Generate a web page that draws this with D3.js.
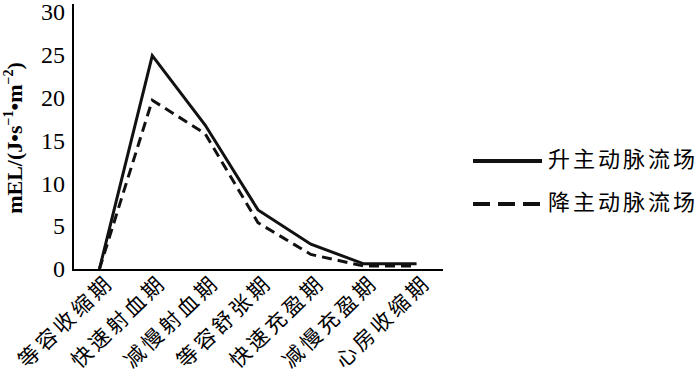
<!DOCTYPE html>
<html><head><meta charset="utf-8">
<script src="https://cdn.jsdelivr.net/npm/d3@7"></script>
<style>html,body{margin:0;padding:0;background:#fff;}svg{display:block;}</style>
</head><body>
<svg id="c" width="700" height="377"></svg>
<script>
const categories = ["等容收缩期","快速射血期","减慢射血期","等容舒张期","快速充盈期","减慢充盈期","心房收缩期"];
const ascending = [0, 24.9, 16.8, 6.9, 2.9, 0.6, 0.6];
const descending = [0, 19.7, 15.8, 5.4, 1.7, 0.35, 0.35];
const seriesNames = ["升主动脉流场","降主动脉流场"];
const yTicks = [0,5,10,15,20,25,30];

(function(){
const svg = d3.select("#c");
const mLeft = 73, mRight = 443, mTop = 12, mBottom = 269;
const x = d3.scalePoint().domain(categories).range([mLeft, mRight]).padding(0.5);
const y = d3.scaleLinear().domain([0,30]).range([mBottom, mTop]);

// axes
const yAxis = svg.append("g").attr("transform",`translate(${mLeft},0)`)
  .call(d3.axisLeft(y).tickValues(yTicks).tickSize(0).tickPadding(8));
yAxis.select(".domain").remove();
yAxis.selectAll("text").attr("font-family","Liberation Serif").attr("font-size",24).attr("fill","#000");
svg.append("line").attr("x1",mLeft).attr("x2",mLeft).attr("y1",4).attr("y2",mBottom+1)
  .attr("stroke","#000").attr("stroke-width",2);

const xAxis = svg.append("g").attr("transform",`translate(0,${mBottom})`)
  .call(d3.axisBottom(x).tickSize(0).tickPadding(0));
xAxis.select(".domain").remove();
svg.append("line").attr("x1",mLeft-1).attr("x2",mRight).attr("y1",mBottom+1).attr("y2",mBottom+1)
  .attr("stroke","#000").attr("stroke-width",2);
xAxis.selectAll("text")
  .attr("font-family","Noto Sans CJK SC").attr("font-size",21).attr("fill","#000")
  .attr("letter-spacing","3.5px")
  .attr("text-anchor","end")
  .attr("dy",null).attr("y",null)
  .attr("transform","translate(11,11) rotate(-44)")
  .attr("dominant-baseline","middle");

// y title
const yt = svg.append("text").attr("transform","translate(22,138) rotate(-90)")
  .attr("text-anchor","middle").attr("font-family","Liberation Serif").attr("font-weight","bold")
  .attr("font-size",22).attr("fill","#000");
yt.append("tspan").text("mEL/(J•s");
yt.append("tspan").attr("dy",-9).attr("font-size",14).text("−1");
yt.append("tspan").attr("dy",9).text("•m");
yt.append("tspan").attr("dy",-9).attr("font-size",14).text("−2");
yt.append("tspan").attr("dy",9).text(")");

// lines
const line = d3.line().x((d,i)=>x(categories[i])).y(d=>y(d));
svg.append("path").datum(descending).attr("d",line).attr("fill","none")
  .attr("stroke","#111").attr("stroke-width",3).attr("stroke-dasharray","10,6");
svg.append("path").datum(ascending).attr("d",line).attr("fill","none")
  .attr("stroke","#111").attr("stroke-width",3);

// legend
const leg = svg.append("g");
const ly = [161, 204];
seriesNames.forEach((n,i)=>{
  leg.append("line").attr("x1",473).attr("x2",542).attr("y1",ly[i]).attr("y2",ly[i])
    .attr("stroke","#111").attr("stroke-width",4)
    .attr("stroke-dasharray", i===1 ? "17,8" : null);
  leg.append("text").attr("x",548).attr("y",ly[i]).attr("dominant-baseline","middle")
    .attr("font-family","Noto Sans CJK SC").attr("font-size",22).attr("letter-spacing","3px")
    .attr("fill","#000").text(n);
});
})();
</script>
</body></html>
